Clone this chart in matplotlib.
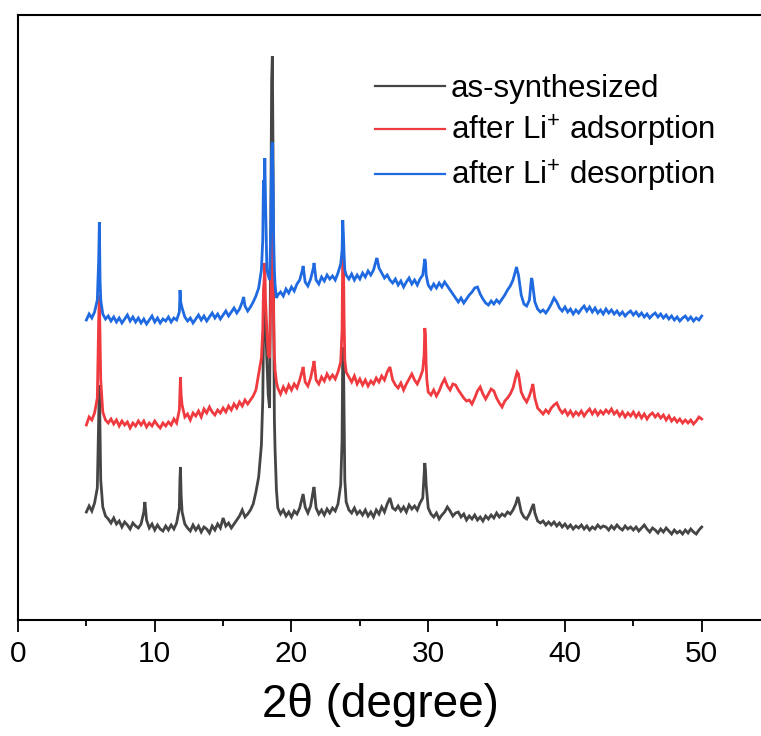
import numpy as np
import matplotlib
matplotlib.use("Agg")
import matplotlib.pyplot as plt

plt.rcParams["font.family"] = ["Liberation Sans", "DejaVu Sans"]
plt.rcParams["mathtext.fontset"] = "custom"
plt.rcParams["mathtext.rm"] = "Liberation Sans"
plt.rcParams["mathtext.it"] = "Liberation Sans:italic"
plt.rcParams["mathtext.bf"] = "Liberation Sans:bold"

# 2-theta scan grid (degrees), 0.2 deg steps from 5 to 50
two_theta = np.round(np.arange(5.0, 50.0001, 0.2), 2)

# offset intensities (a.u.) on the regular grid
as_synth = [
    108, 114, 109, 117, 132, 190, 113, 104, 101, 97,
    102, 96, 99, 93, 98, 95, 91, 97, 94, 92,
    96, 108, 100, 92, 96, 90, 95, 91, 89, 94,
    90, 95, 91, 97, 112, 108, 96, 92, 89, 95,
    90, 94, 88, 93, 91, 87, 94, 90, 96, 92,
    102, 94, 97, 92, 96, 100, 104, 110, 103, 106,
    110, 116, 128, 143, 175, 300, 260, 212, 564, 170,
    112, 106, 110, 104, 108, 103, 109, 106, 112, 123,
    113, 107, 114, 130, 112, 106, 110, 105, 111, 107,
    112, 109, 116, 135, 265, 118, 110, 107, 112, 106,
    109, 105, 110, 104, 108, 103, 110, 106, 113, 108,
    116, 122, 112, 110, 114, 109, 113, 108, 115, 111,
    114, 110, 117, 122, 150, 112, 106, 103, 107, 101,
    105, 108, 113, 109, 104, 107, 108, 103, 106, 100,
    104, 101, 105, 100, 103, 99, 104, 101, 105, 102,
    107, 103, 106, 104, 108, 106, 110, 116, 121, 108,
    103, 101, 106, 113, 107, 99, 97, 99, 95, 98,
    95, 98, 94, 97, 93, 96, 92, 95, 91, 94,
    92, 95, 91, 94, 90, 93, 91, 95, 92, 94,
    93, 90, 94, 91, 95, 92, 90, 94, 91, 93,
    90, 93, 89, 92, 95, 91, 88, 92, 90, 87,
    91, 88, 92, 89, 86, 90, 87, 89, 86, 90,
    87, 91, 88, 86, 90, 93,
]
after_ads = [
    195, 203, 200, 207, 222, 280, 208, 200, 197, 201,
    196, 200, 194, 199, 195, 198, 192, 197, 194, 199,
    195, 199, 193, 197, 194, 199, 195, 192, 197, 194,
    198, 195, 201, 197, 210, 215, 203, 206, 200, 207,
    204, 209, 203, 211, 207, 213, 208, 205, 210, 207,
    212, 208, 214, 210, 216, 212, 218, 214, 220, 216,
    220, 224, 230, 246, 262, 340, 290, 262, 388, 250,
    232, 226, 233, 228, 235, 230, 236, 232, 240, 250,
    238, 234, 242, 255, 240, 236, 243, 239, 246, 241,
    245, 241, 248, 258, 360, 248, 243, 238, 244, 236,
    241, 235, 240, 234, 239, 236, 242, 238, 244, 240,
    248, 253, 240, 235, 232, 237, 230, 236, 241, 246,
    240, 236, 242, 250, 285, 228, 225, 230, 224, 229,
    236, 241, 234, 230, 236, 235, 230, 226, 222, 219,
    220, 216, 222, 229, 233, 226, 221, 226, 231, 229,
    222, 217, 213, 219, 222, 226, 232, 243, 246, 228,
    222, 218, 224, 233, 222, 212, 209, 206, 210, 207,
    212, 215, 217, 211, 207, 210, 205, 209, 204, 208,
    205, 209, 204, 208, 211, 206, 210, 205, 209, 206,
    210, 207, 211, 206, 209, 204, 208, 203, 207, 204,
    208, 203, 207, 202, 206, 201, 205, 207, 203, 206,
    202, 205, 200, 204, 199, 202, 198, 201, 197, 200,
    197, 200, 196, 199, 203, 201,
]
after_des = [
    300, 306, 302, 308, 320, 340, 306, 301, 304, 299,
    303, 298, 302, 297, 301, 305, 299, 303, 298, 302,
    297, 301, 296, 300, 304, 298, 302, 297, 301, 299,
    303, 298, 302, 300, 308, 312, 303, 299, 302, 297,
    301, 305, 300, 304, 299, 303, 307, 302, 306, 301,
    305, 309, 304, 308, 312, 307, 311, 318, 314, 309,
    313, 318, 324, 332, 350, 420, 350, 340, 478, 335,
    325, 328, 324, 331, 327, 333, 329, 336, 340, 350,
    338, 334, 341, 352, 340, 336, 343, 339, 345, 341,
    344, 340, 347, 356, 385, 345, 341, 346, 340, 345,
    341, 347, 343, 349, 345, 350, 360, 352, 347, 342,
    345, 340, 337, 341, 335, 339, 333, 338, 342, 336,
    340, 335, 341, 345, 358, 335, 331, 336, 332, 337,
    333, 338, 334, 330, 326, 322, 318, 322, 317, 321,
    325, 328, 332, 333, 326, 321, 317, 315, 319, 316,
    320, 317, 321, 325, 330, 334, 340, 350, 345, 325,
    316, 314, 320, 340, 318, 311, 308, 310, 307, 311,
    316, 322, 318, 312, 309, 313, 308, 311, 306, 310,
    307, 311, 314, 309, 313, 308, 312, 307, 310, 306,
    311, 307, 310, 306, 309, 305, 308, 304, 307, 309,
    305, 308, 304, 307, 303, 306, 302, 305, 307, 303,
    306, 302, 305, 301, 304, 300, 303, 299, 302, 304,
    300, 303, 299, 302, 300, 304,
]

# extra readings across the narrow reflections
as_synth_peak_x = [5.9, 5.95, 6.05, 9.28, 11.84, 11.88, 11.93, 17.9, 17.95, 18.05,
                   18.1, 18.3, 18.5, 18.55, 18.65, 18.7, 18.75, 18.9, 20.85, 21.65,
                   23.7, 23.75, 23.85, 23.9, 29.75, 29.85, 36.55, 37.7]
as_synth_peak_y = [200, 235, 140, 118, 140, 153, 125, 220, 280, 320,
                   300, 225, 420, 540, 470, 300, 200, 130, 126, 133,
                   180, 273, 200, 140, 157, 135, 123, 116]

after_ads_peak_x = [5.9, 5.95, 6.05, 11.84, 11.88, 11.93, 17.9, 17.95, 18.05, 18.1,
                    18.3, 18.5, 18.55, 18.65, 18.7, 18.75, 18.9, 20.85, 21.65, 23.7,
                    23.75, 23.85, 23.9, 29.7, 29.75, 29.85, 29.9, 36.5, 37.65]
after_ads_peak_y = [300, 325, 240, 225, 243, 225, 290, 330, 357, 320,
                    265, 330, 385, 360, 300, 265, 238, 253, 259, 290,
                    373, 300, 260, 265, 292, 255, 240, 248, 236]

after_des_peak_x = [5.9, 5.95, 6.05, 11.85, 11.9, 16.5, 17.9, 17.95, 18.05, 18.1,
                    18.3, 18.5, 18.55, 18.65, 18.7, 18.75, 18.9, 20.85, 21.65, 23.7,
                    23.75, 23.85, 23.9, 26.25, 29.75, 29.85, 36.45, 37.55]
after_des_peak_y = [360, 398, 320, 330, 318, 323, 380, 440, 462, 420,
                    345, 400, 470, 440, 380, 350, 322, 354, 357, 370,
                    400, 365, 350, 362, 361, 345, 353, 342]

labels = ["as-synthesized", "after Li$^{+}$ adsorption", "after Li$^{+}$ desorption"]
colors = ["#454545", "#ef3b3f", "#1f6ae0"]


def merged(grid_y, px, py):
    x = np.concatenate([two_theta, px])
    y = np.concatenate([np.asarray(grid_y, float), py])
    order = np.argsort(x, kind="stable")
    return x[order], y[order]


W, H = 761, 736
fig = plt.figure(figsize=(W / 100, H / 100), dpi=100)
x_max = 60.0
px_per_unit = 13.674
ax = fig.add_axes([18 / W, 1 - 620 / H, x_max * px_per_unit / W, 605 / H])

series = [
    (as_synth, as_synth_peak_x, as_synth_peak_y),
    (after_ads, after_ads_peak_x, after_ads_peak_y),
    (after_des, after_des_peak_x, after_des_peak_y),
]
for (gy, pxs, pys), lab, col in zip(series, labels, colors):
    x, y = merged(gy, pxs, pys)
    ax.plot(x, y, color=col, lw=2.0, label=lab, solid_joinstyle="miter")

ax.set_xlim(0, x_max)
ax.set_ylim(0, 605)
ax.set_xticks([0, 10, 20, 30, 40, 50])
ax.set_xticks([5, 15, 25, 35, 45, 55], minor=True)
ax.tick_params(axis="x", which="major", direction="out", length=8.5, width=1.3,
               labelsize=21.5, pad=6)
ax.tick_params(axis="x", which="minor", direction="out", length=4.5, width=1.3)
ax.set_yticks([])
for s in ax.spines.values():
    s.set_linewidth(1.5)
ax.spines["right"].set_visible(False)

ax.set_xlabel("2θ (degree)", fontsize=33)
ax.xaxis.set_label_coords(380 / W, 1 - 705 / H, transform=fig.transFigure)
ax.xaxis.label.set_va("center")

leg = ax.legend(loc="upper left", bbox_to_anchor=(375 / W, 1 - 74 / H),
                bbox_transform=fig.transFigure, frameon=False, fontsize=22.5,
                handlelength=2.25, handletextpad=0.17, labelspacing=0.28,
                borderpad=0, borderaxespad=0)
for line in leg.get_lines():
    line.set_linewidth(1.6)

fig.savefig("out.png", dpi=100)
